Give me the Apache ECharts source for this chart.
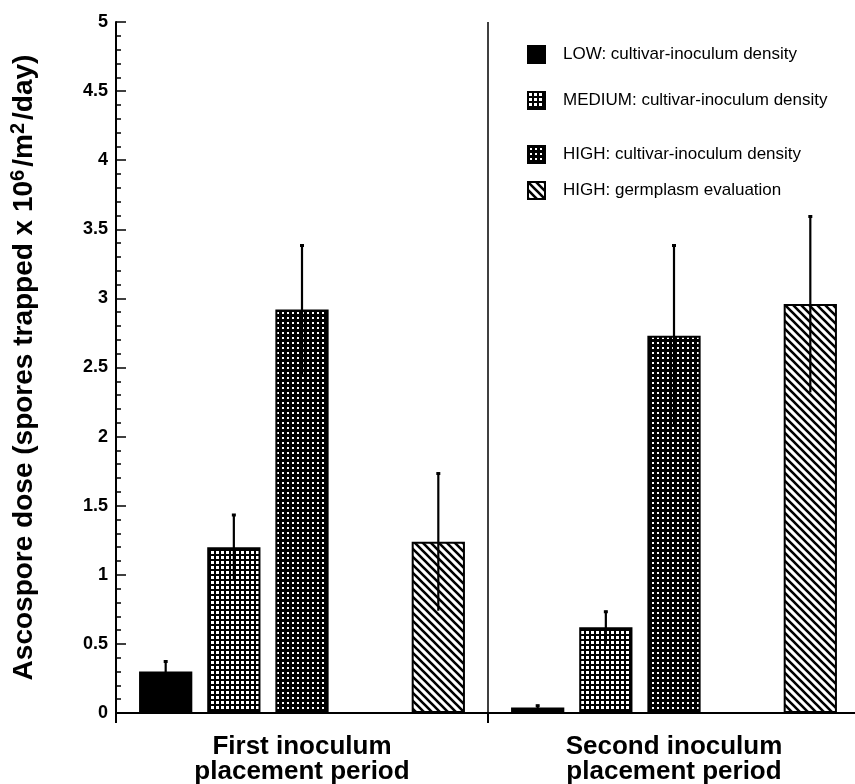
<!DOCTYPE html>
<html>
<head>
<meta charset="utf-8">
<script src="https://cdn.jsdelivr.net/npm/echarts@6/dist/echarts.min.js"></script>
<style>
html,body{margin:0;padding:0;background:#fff;}
#chart{width:855px;height:784px;}
</style>
</head>
<body>
<div id="chart"></div>
<script>
// ---- data ----
const categories = ['First inoculum\nplacement period', 'Second inoculum\nplacement period'];
const seriesNames = [
  'LOW: cultivar-inoculum density',
  'MEDIUM: cultivar-inoculum density',
  'HIGH: cultivar-inoculum density',
  'HIGH: germplasm evaluation'
];
const lowValues = [0.30, 0.04];
const lowErrors = [0.08, 0.02];
const mediumValues = [1.20, 0.62];
const mediumErrors = [0.24, 0.12];
const highValues = [2.92, 2.73];
const highErrors = [0.47, 0.66];
const germplasmValues = [1.24, 2.96];
const germplasmErrors = [0.50, 0.64];
const yTicks = [0, 0.5, 1, 1.5, 2, 2.5, 3, 3.5, 4, 4.5, 5];

// ---- patterns ----
function makeCanvas(w, h, draw) {
  const c = document.createElement('canvas');
  c.width = w; c.height = h;
  const ctx = c.getContext('2d');
  draw(ctx);
  return c;
}
const gridPattern = makeCanvas(5, 5, ctx => {
  ctx.fillStyle = '#000'; ctx.fillRect(0, 0, 5, 5);
  ctx.fillStyle = '#fff'; ctx.fillRect(1, 1, 3, 3);
});
const dotPattern = makeCanvas(5, 5, ctx => {
  ctx.fillStyle = '#000'; ctx.fillRect(0, 0, 5, 5);
  ctx.fillStyle = '#fff'; ctx.fillRect(2, 2, 2, 2);
});
const hatchPattern = makeCanvas(8, 8, ctx => {
  ctx.fillStyle = '#fff'; ctx.fillRect(0, 0, 8, 8);
  ctx.strokeStyle = '#000'; ctx.lineWidth = 2.6;
  ctx.beginPath();
  ctx.moveTo(-2, -2); ctx.lineTo(10, 10);
  ctx.moveTo(-6, 2); ctx.lineTo(2, 10);
  ctx.moveTo(6, -2); ctx.lineTo(10, 2);
  ctx.stroke();
});

const FONT = '"Liberation Sans", Arial, Helvetica, sans-serif';
const BAR_CAT_GAP = 0.124;
const BAR_GAP = 0.28;
const SLOTS = 5;

const fills = ['#000', {image: gridPattern, repeat: 'repeat'}, {image: dotPattern, repeat: 'repeat'}, {image: hatchPattern, repeat: 'repeat'}];
const valueSets = [lowValues, mediumValues, highValues, germplasmValues];
const errorSets = [lowErrors, mediumErrors, highErrors, germplasmErrors];
const slotIndex = [0, 1, 2, 4];

const barSeries = [];
for (let i = 0; i < 4; i++) {
  barSeries.push({
    name: seriesNames[i],
    type: 'bar',
    data: valueSets[i],
    barGap: (BAR_GAP * 100) + '%',
    barCategoryGap: (BAR_CAT_GAP * 100) + '%',
    itemStyle: {color: fills[i], borderColor: '#000', borderWidth: 2},
    emphasis: {disabled: true},
    z: 2
  });
  if (i === 2) {
    barSeries.push({
      name: 'spacer', type: 'bar', data: [null, null],
      barGap: (BAR_GAP * 100) + '%', barCategoryGap: (BAR_CAT_GAP * 100) + '%',
      itemStyle: {color: 'transparent'}
    });
  }
}

const errorData = [];
for (let i = 0; i < 4; i++) {
  for (let c = 0; c < categories.length; c++) {
    errorData.push([c, valueSets[i][c], errorSets[i][c], slotIndex[i]]);
  }
}

const errorSeries = {
  type: 'custom',
  name: 'errors',
  z: 5,
  silent: true,
  data: errorData,
  renderItem: function (params, api) {
    const cat = api.value(0), val = api.value(1), err = api.value(2), slot = api.value(3);
    const catW = api.size([1, 0])[0];
    const barW = catW * (1 - BAR_CAT_GAP) / (SLOTS + (SLOTS - 1) * BAR_GAP);
    const step = barW * (1 + BAR_GAP);
    const c = api.coord([cat, val]);
    const x = c[0] + (slot - (SLOTS - 1) / 2) * step;
    const top = api.coord([cat, val + err])[1];
    const bot = api.coord([cat, Math.max(0, val - err)])[1];
    return {
      type: 'group',
      children: [
        {type: 'line', shape: {x1: x, y1: top, x2: x, y2: bot}, style: {stroke: '#000', lineWidth: 2.2}},
        {type: 'line', shape: {x1: x - 2, y1: top + 1, x2: x + 2, y2: top + 1}, style: {stroke: '#000', lineWidth: 3}}
      ]
    };
  }
};

const legendTops = [54, 100, 154, 190];
const legends = seriesNames.map((n, i) => ({
  data: [n],
  left: 527,
  top: legendTops[i] - 9,
  padding: 0,
  orient: 'vertical',
  icon: 'rect',
  itemWidth: 17,
  itemHeight: 17,
  selectedMode: false,
  textStyle: {fontFamily: FONT, fontSize: 17, color: '#000', padding: [0, 0, 0, 13]}
}));

const chart = echarts.init(document.getElementById('chart'), null, {renderer: 'canvas'});
chart.setOption({
  animation: false,
  backgroundColor: '#fff',
  grid: {left: 116, right: -5, top: 22, bottom: 71, containLabel: false, outerBoundsMode: 'none'},
  legend: legends,
  xAxis: {
    type: 'category',
    data: categories,
    axisLine: {show: true, lineStyle: {color: '#000', width: 2}},
    axisTick: {show: true, length: 10, lineStyle: {color: '#000', width: 2}},
    splitLine: {show: true, lineStyle: {color: '#000', width: 1.5}},
    axisLabel: {fontFamily: FONT, fontSize: 26, fontWeight: 'bold', color: '#000', lineHeight: 25, margin: 21}
  },
  yAxis: {
    type: 'value',
    min: yTicks[0],
    max: yTicks[yTicks.length - 1],
    interval: 0.5,
    axisLine: {show: true, lineStyle: {color: '#000', width: 2}},
    axisTick: {show: true, inside: true, length: 10, lineStyle: {color: '#000', width: 1.5}},
    minorTick: {show: true, splitNumber: 5, length: 5, lineStyle: {color: '#000', width: 1.5}},
    splitLine: {show: false},
    axisLabel: {fontFamily: FONT, fontSize: 18, fontWeight: 'bold', color: '#000', margin: 8},
    name: 'Ascospore dose (spores trapped x 10{sup|6}/m{sup|2}/day)',
    nameLocation: 'middle',
    nameRotate: 90,
    nameGap: 76,
    nameTextStyle: {
      fontFamily: FONT, fontSize: 28, fontWeight: 'bold', color: '#000',
      rich: {sup: {fontFamily: FONT, fontSize: 20, fontWeight: 'bold', color: '#000', verticalAlign: 'top', padding: [0, 3, 12, 0]}}
    }
  },
  series: barSeries.concat([errorSeries])
});
</script>
</body>
</html>
